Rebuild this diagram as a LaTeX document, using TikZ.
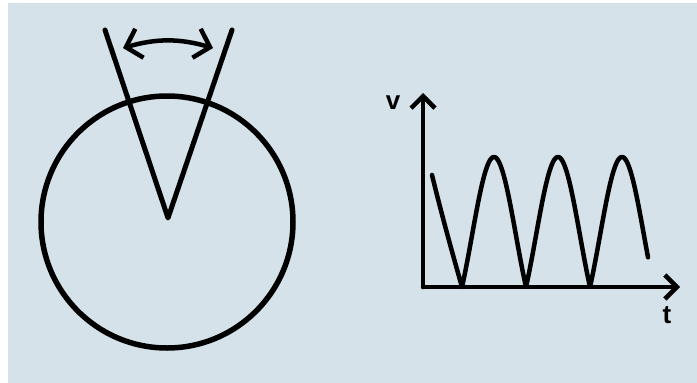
\documentclass[tikz,border=0pt]{standalone}
\usepackage{fontspec}
\setmainfont{Liberation Sans}
\usetikzlibrary{arrows.meta}
\definecolor{bgblue}{RGB}{213,226,233}
\tikzset{
  ink/.style={line width=5pt, black, line cap=round, line join=round},
  axistip/.style={-{Straight Barb[length=12pt,width=24pt,line width=4.5pt]}},
  swingtip/.style={{Straight Barb[length=14pt,width=30pt,line width=4.5pt]}-{Straight Barb[length=14pt,width=30pt,line width=4.5pt]}},
  lbl/.style={font=\fontsize{26}{28}\selectfont\bfseries, inner sep=0pt}
}
\begin{document}
\begin{tikzpicture}[x=1pt,y=-1pt]
\useasboundingbox (0,0) rectangle (697,383);
\fill[white] (0,0) rectangle (697,383);
\fill[bgblue] (8,3) rectangle (697,383);
% wheel
\coordinate (c) at (167,222);
\draw[ink, line width=5.5pt] (c) circle[radius=126];
% V
\coordinate (apex) at (168,218);
\coordinate (vl) at (105,30);
\coordinate (vr) at (232,30);
\draw[ink] (vl) -- (apex) -- (vr);
% swing arrow
\coordinate (sl) at (123,48);
\coordinate (sr) at (213,48);
\draw[ink, line width=4.5pt, swingtip] (sl) to[bend left=16] (sr);
% axes
\coordinate (o) at (423,287);
\coordinate (ytop) at (423,93);
\coordinate (xend) at (680,287);
\draw[ink, line width=4.5pt, axistip] (o) -- (ytop);
\draw[ink, line width=4.5pt, axistip] (o) -- (xend);
\node[lbl] (v) at (393,103) {v};
\node[lbl] (t) at (667,315) {t};
% wave
\coordinate (w0) at (432,175);
\coordinate (z1) at (462,287);
\draw[ink, line width=4.5pt] (w0) .. controls (441,212) and (452,252) .. (z1)
  -- plot[domain=0:186, samples=300] ({462+\x},
     {287-130*abs(sin(\x*2.8125))*(0.7+0.3*abs(sin(\x*2.8125)))});
\end{tikzpicture}
\end{document}
